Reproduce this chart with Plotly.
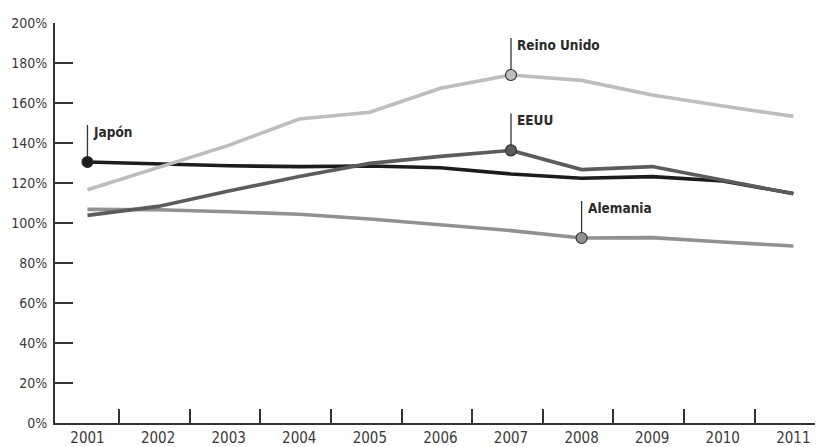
import plotly.graph_objects as go

years = [2001, 2002, 2003, 2004, 2005, 2006, 2007, 2008, 2009, 2010, 2011]
japon = [130.5, 129.6, 128.6, 128.2, 128.5, 127.6, 124.5, 122.4, 123.2, 121.0, 114.7]
eeuu = [103.8, 108.3, 116.0, 123.2, 129.8, 133.3, 136.3, 126.7, 128.2, 121.2, 114.6]
reino_unido = [116.6, 127.6, 138.8, 152.0, 155.4, 167.4, 174.0, 171.3, 164.0, 158.5, 153.3]
alemania = [106.8, 106.6, 105.6, 104.4, 102.0, 99.2, 96.2, 92.5, 92.7, 90.5, 88.5]

series = [
    # name, values, color, labelled year
    ("Japón", japon, "#1c1c1c", 2001),
    ("Alemania", alemania, "#919191", 2008),
    ("EEUU", eeuu, "#5c5c5c", 2007),
    ("Reino Unido", reino_unido, "#bdbdbd", 2007),
]

y_ticks = [0, 20, 40, 60, 80, 100, 120, 140, 160, 180, 200]
y_labels = [f"{v}%" for v in y_ticks]

FONT = "Liberation Sans Narrow, DejaVu Sans Condensed, Arial Narrow, sans-serif"
AX = "#333333"

fig = go.Figure()
for name, vals, color, _ in series:
    fig.add_trace(go.Scatter(x=years, y=vals, mode="lines", name=name,
                             line=dict(color=color, width=3.6),
                             hoverinfo="skip", showlegend=False))

shapes = []
annotations = []
for name, vals, color, yr in series:
    v = vals[years.index(yr)]
    fig.add_trace(go.Scatter(x=[yr], y=[v], mode="markers", showlegend=False,
                             marker=dict(size=11, color=color,
                                         line=dict(color="#333333", width=1.2)),
                             hoverinfo="skip"))
    shapes.append(dict(type="line", xref="x", yref="y", x0=yr, x1=yr,
                       ysizemode="pixel", yanchor=v, y0=0, y1=37,
                       line=dict(color="#333333", width=1.3), layer="below"))
    annotations.append(dict(x=yr, y=v, xref="x", yref="y", text=f"<b>{name}</b>",
                            showarrow=False, xanchor="left", yanchor="middle",
                            xshift=4, yshift=30,
                            font=dict(family=FONT, size=13.5, color="#2a2a2a")))

# the page body has an 8px margin, so the figure is sized to fit the window
fig.update_layout(
    width=815, height=439,
    margin=dict(l=47, r=0, t=15, b=24, autoexpand=False),
    paper_bgcolor="white", plot_bgcolor="white",
    font=dict(family=FONT, size=15, color="#3a3a3a"),
    shapes=shapes, annotations=annotations,
    xaxis=dict(
        range=[2000.54, 2011.42], tickmode="array", tickvals=years,
        ticktext=[str(y) for y in years], ticks="", showgrid=False,
        zeroline=False, showline=True, linecolor=AX, linewidth=2,
        automargin=False,
        tickfont=dict(family=FONT, size=15, color="#3a3a3a"),
        minor=dict(tickmode="array", tickvals=[y + 0.45 for y in years[:-1]],
                   ticks="inside", ticklen=14, tickwidth=2, tickcolor=AX,
                   showgrid=False),
    ),
    yaxis=dict(
        range=[0, 200], tickmode="array", tickvals=y_ticks, ticktext=y_labels,
        ticks="inside", ticklen=18, tickwidth=2, tickcolor=AX,
        showgrid=False, zeroline=False, showline=True, linecolor=AX, linewidth=2,
        ticklabelstandoff=3, automargin=False,
        tickfont=dict(family=FONT, size=14, color="#3a3a3a"),
    ),
)

fig.write_html("out.html")
